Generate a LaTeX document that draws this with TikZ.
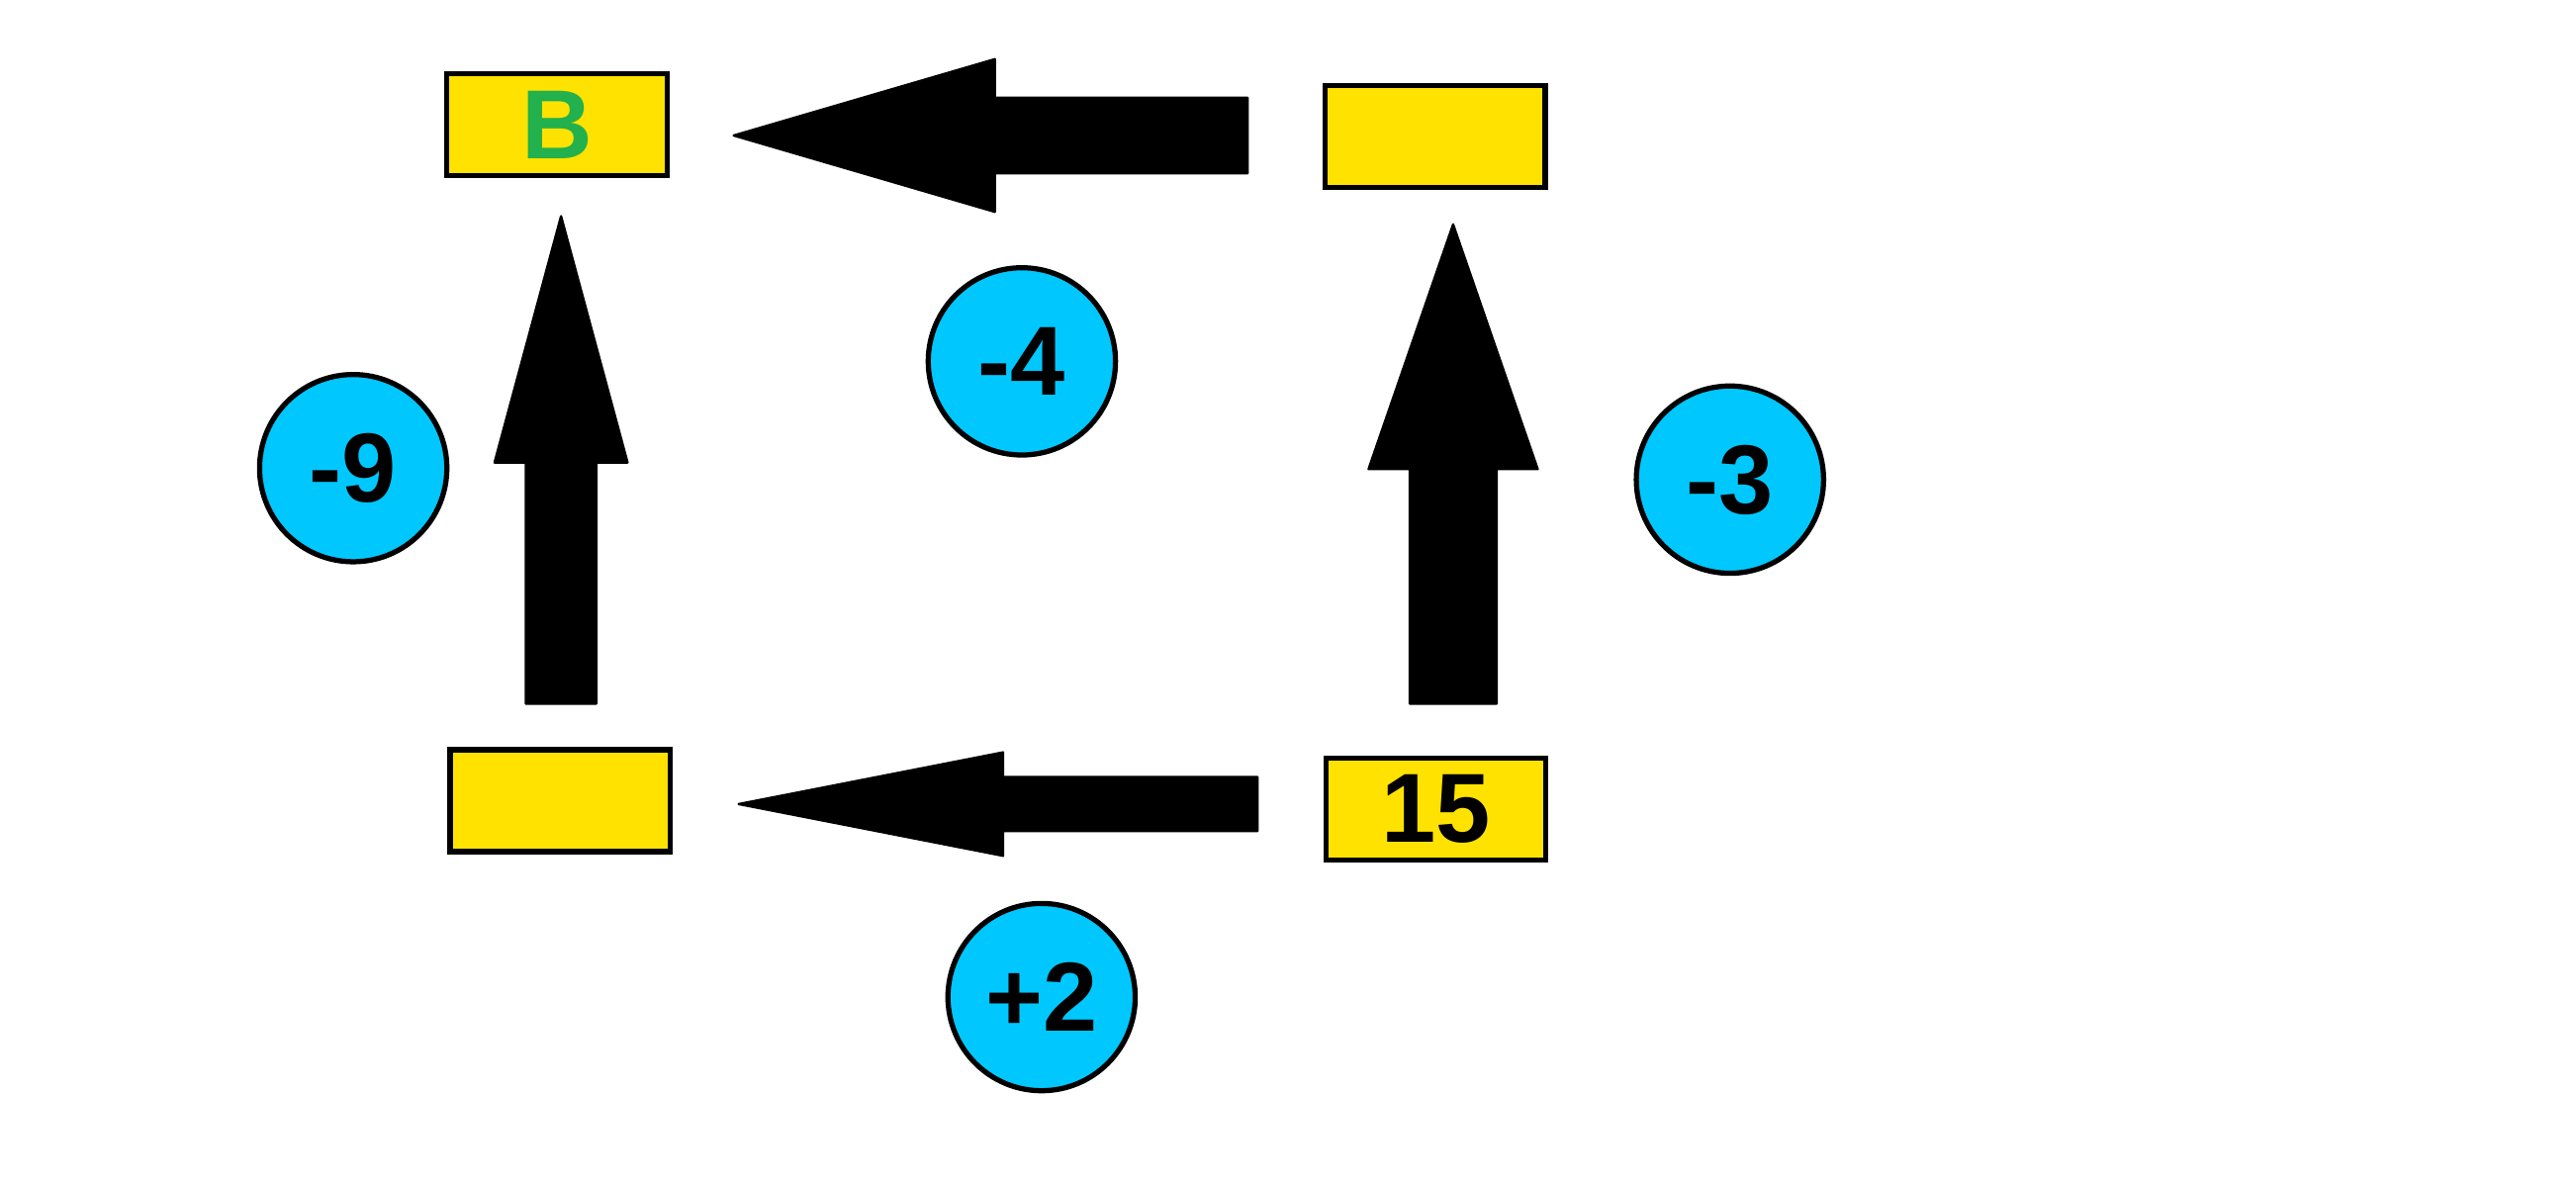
\documentclass[tikz,border=0pt]{standalone}
\usepackage{fontspec}
\setmainfont{Liberation Sans}
\usetikzlibrary{calc}
\definecolor{boxyellow}{RGB}{255,226,0}
\definecolor{ballcyan}{RGB}{0,200,255}
\definecolor{labelgreen}{RGB}{34,177,76}

\begin{document}
\begin{tikzpicture}[
  cell/.style={draw,line width=0.9pt,line join=miter,fill=boxyellow,minimum width=1.34cm,minimum height=0.62cm,inner sep=0pt,font=\fontsize{17}{17}\selectfont\bfseries},
  ball/.style={draw,circle,line width=0.9pt,fill=ballcyan,minimum size=1.14cm,inner sep=0pt,font=\fontsize{17}{17}\selectfont\bfseries},
  blockarrow/.style={draw,fill=black,line width=0.4pt,line join=round}]
\useasboundingbox (0,0) rectangle (15.68,-7.20);
% corner boxes
\node[cell] (bB) at (3.39,-0.76) {\textcolor{labelgreen}{B}};
\node[cell] (bTR) at (8.735,-0.83) {};
\node[cell] (bBL) at (3.41,-4.875) {};
\node[cell] (bBR) at (8.74,-4.925) {15};
% circles with the changes
\node[ball] (cTop) at (6.22,-2.20) {-4};
\node[ball] (cLeft) at (2.15,-2.85) {-9};
\node[ball] (cRight) at (10.53,-2.92) {-3};
\node[ball] (cBot) at (6.34,-6.07) {+2};
% arrow ends, next to the boxes
\coordinate (aTopTip) at ($(bB.east)+(0.39,-0.065)$);
\coordinate (aTopTail) at ($(bTR.west)+(-0.455,0.005)$);
\coordinate (aBotTip) at ($(bBL.east)+(0.40,-0.02)$);
\coordinate (aBotTail) at ($(bBR.west)+(-0.40,0.03)$);
\coordinate (aLeftTip) at ($(bB.south)+(0.025,-0.23)$);
\coordinate (aLeftTail) at ($(bBL.north)+(0.005,0.265)$);
\coordinate (aRightTip) at ($(bTR.south)+(0.11,-0.21)$);
\coordinate (aRightTail) at ($(bBR.north)+(0.105,0.315)$);
% block arrows
\path[blockarrow] (aTopTip) -- ($(aTopTip)+(1.59,0.465)$) -- ($(aTopTip)+(1.59,0.23)$)
  -- ($(aTopTail)+(0,0.23)$) -- ($(aTopTail)+(0,-0.23)$)
  -- ($(aTopTip)+(1.59,-0.23)$) -- ($(aTopTip)+(1.59,-0.465)$) -- cycle;
\path[blockarrow] (aBotTip) -- ($(aBotTip)+(1.61,0.315)$) -- ($(aBotTip)+(1.61,0.165)$)
  -- ($(aBotTail)+(0,0.165)$) -- ($(aBotTail)+(0,-0.165)$)
  -- ($(aBotTip)+(1.61,-0.165)$) -- ($(aBotTip)+(1.61,-0.315)$) -- cycle;
\path[blockarrow] (aLeftTip) -- ($(aLeftTip)+(-0.405,-1.50)$) -- ($(aLeftTip)+(-0.215,-1.50)$)
  -- ($(aLeftTail)+(-0.215,0)$) -- ($(aLeftTail)+(0.215,0)$)
  -- ($(aLeftTip)+(0.215,-1.50)$) -- ($(aLeftTip)+(0.405,-1.50)$) -- cycle;
\path[blockarrow] (aRightTip) -- ($(aRightTip)+(-0.515,-1.49)$) -- ($(aRightTip)+(-0.265,-1.49)$)
  -- ($(aRightTail)+(-0.265,0)$) -- ($(aRightTail)+(0.265,0)$)
  -- ($(aRightTip)+(0.265,-1.49)$) -- ($(aRightTip)+(0.515,-1.49)$) -- cycle;
\end{tikzpicture}
\end{document}
